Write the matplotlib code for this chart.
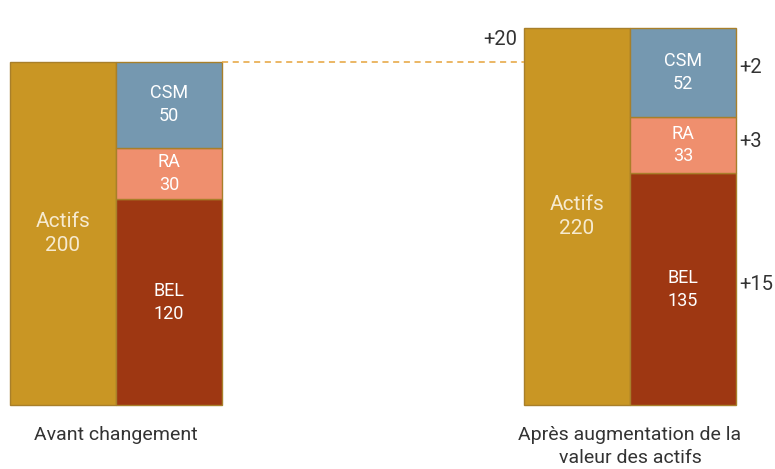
import matplotlib.pyplot as plt

# values of the two balance sheets
groups = ["Avant changement", "Après augmentation de la\nvaleur des actifs"]
actifs = [200, 220]
bel = [120, 135]
ra = [30, 33]
csm = [50, 52]
deltas_actifs = ["", "+20"]
deltas_csm = ["", "+2"]
deltas_ra = ["", "+3"]
deltas_bel = ["", "+15"]

plt.rcParams["font.family"] = ["Roboto", "DejaVu Sans"]

c_actifs = "#C99624"
c_csm = "#7598B0"
c_ra = "#EF8F6E"
c_bel = "#9E3712"
c_edge = "#A87F2A"
c_txt = "#333333"

fig = plt.figure(figsize=(7.75, 4.69), dpi=100)
ax = fig.add_axes([0, 0, 1, 1])
ax.set_xlim(0, 775)
ax.set_ylim(-64 / 1.715, 405 / 1.715)
ax.axis("off")

x_left = [10, 524]   # left edge of each balance sheet
w = 106

for i in range(2):
    xa = x_left[i]
    xl = xa + w
    ax.bar(xa, actifs[i], width=w, align="edge", color=c_actifs,
           edgecolor=c_edge, linewidth=1)
    ax.bar(xl, bel[i], width=w, align="edge", color=c_bel,
           edgecolor=c_edge, linewidth=1)
    ax.bar(xl, ra[i], bottom=bel[i], width=w, align="edge", color=c_ra,
           edgecolor=c_edge, linewidth=1)
    ax.bar(xl, csm[i], bottom=bel[i] + ra[i], width=w, align="edge",
           color=c_csm, edgecolor=c_edge, linewidth=1)

    ax.text(xa + w / 2, actifs[i] / 2, f"Actifs\n{actifs[i]}", color="#F6EAD0",
            ha="center", va="center", fontsize=15, linespacing=1.35)
    ax.text(xl + w / 2, bel[i] / 2, f"BEL\n{bel[i]}", color="white",
            ha="center", va="center", fontsize=13, linespacing=1.35)
    ax.text(xl + w / 2, bel[i] + ra[i] / 2, f"RA\n{ra[i]}", color="white",
            ha="center", va="center", fontsize=13, linespacing=1.3)
    ax.text(xl + w / 2, bel[i] + ra[i] + csm[i] / 2, f"CSM\n{csm[i]}",
            color="white", ha="center", va="center", fontsize=13, linespacing=1.35)

    ax.text(xa + w, -12, groups[i], color=c_txt, ha="center", va="top",
            fontsize=14, linespacing=1.4)

    xr = xl + w + 3
    ax.text(xr, bel[i] + ra[i] + csm[i] / 2 + 3, deltas_csm[i], color=c_txt,
            ha="left", va="center", fontsize=14.5)
    ax.text(xr, bel[i] + ra[i] / 2 + 2, deltas_ra[i], color=c_txt,
            ha="left", va="center", fontsize=14.5)
    ax.text(xr, bel[i] / 2 + 3, deltas_bel[i], color=c_txt,
            ha="left", va="center", fontsize=14.5)
    ax.text(xa - 7, actifs[i] - 7, deltas_actifs[i], color=c_txt,
            ha="right", va="center", fontsize=14.5)

# level of the first balance sheet carried over to the second one
ax.plot([x_left[0] + 2 * w, x_left[1]], [actifs[0], actifs[0]], color="#E5A33A",
        linestyle=(0, (4, 3)), linewidth=1.1)

fig.savefig("out.png", dpi=100)
